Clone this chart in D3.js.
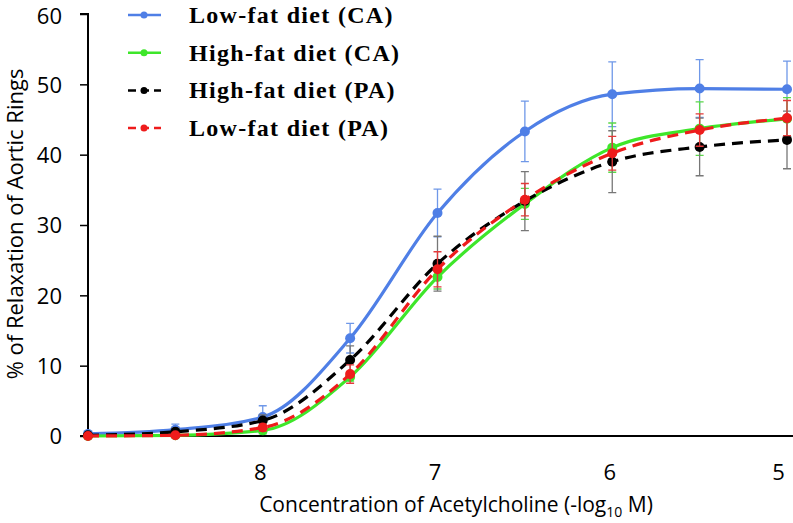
<!DOCTYPE html>
<html>
<head>
<meta charset="utf-8">
<script src="https://cdn.jsdelivr.net/npm/d3@7"></script>
<style>
  body { margin: 0; background: #fff; }
  svg { display: block; }
</style>
</head>
<body>
<div id="chart"></div>
<script>
// data
var conc = [9, 8.5, 8, 7.5, 7, 6.5, 6, 5.5, 5];
var xTicks = [8, 7, 6, 5];
var yTicks = [0, 10, 20, 30, 40, 50, 60];

var lowFatCA = [0.3, 0.9, 2.7, 13.9, 31.7, 43.3, 48.6, 49.4, 49.3];
var lowFatCAErr = [0.2, 0.8, 1.6, 2.1, 3.4, 4.3, 4.6, 4.1, 4.0];
var highFatCA = [0, 0.1, 0.8, 8.4, 22.6, 33.0, 41.0, 43.7, 45.1];
var highFatCAErr = [0.1, 0.2, 0.5, 0.6, 1.7, 2.2, 3.5, 3.8, 3.0];
var highFatPA = [0.1, 0.6, 2.2, 10.8, 24.5, 33.4, 39.0, 41.1, 42.1];
var highFatPAErr = [0.2, 0.5, 0.8, 2.0, 3.9, 4.2, 4.4, 4.1, 4.1];
var lowFatPA = [0, 0.1, 1.2, 8.8, 23.7, 33.6, 40.2, 43.5, 45.2];
var lowFatPAErr = [0.1, 0.2, 0.5, 1.3, 2.5, 2.3, 2.4, 2.3, 2.5];

var series = [
  {name: 'Low-fat diet (CA)', values: lowFatCA, err: lowFatCAErr, color: '#4f7fe6', errColor: '#6f98e8', dash: null},
  {name: 'High-fat diet (CA)', values: highFatCA, err: highFatCAErr, color: '#3ee62a', errColor: '#5bd84a', dash: null},
  {name: 'High-fat diet (PA)', values: highFatPA, err: highFatPAErr, color: '#000000', errColor: '#777777', dash: '11,7'},
  {name: 'Low-fat diet (PA)', values: lowFatPA, err: lowFatPAErr, color: '#ee1c1c', errColor: '#e23a3a', dash: '11,7'}
];

var W = 793, H = 523;
var margin = {top: 14, right: 6, bottom: 87, left: 88};

var svg = d3.select('#chart').append('svg')
  .attr('width', W)
  .attr('height', H);

var x = d3.scaleLinear().domain([9, 5]).range([margin.left, W - margin.right]);
var y = d3.scaleLinear().domain([0, 60]).range([H - margin.bottom, margin.top]);

// y axis
var yAxis = svg.append('g')
  .attr('transform', 'translate(' + margin.left + ',0)')
  .call(d3.axisLeft(y).tickValues(yTicks).tickFormat(d3.format('d')).tickSize(8).tickPadding(18));
yAxis.select('.domain').attr('stroke', '#000').attr('stroke-width', 2).attr('d', 'M-8,' + y(60) + 'H0V' + y(0));
yAxis.selectAll('.tick line').attr('stroke', '#000').attr('stroke-width', 1.5);
yAxis.selectAll('.tick text')
  .style('font-family', '"Open Sans", sans-serif')
  .style('font-size', '22px')
  .attr('dy', function(d) { return d === 60 ? '0.45em' : '0.36em'; })
  .attr('fill', '#000');

// x axis
var xAxis = svg.append('g')
  .attr('transform', 'translate(0,' + y(0) + ')')
  .call(d3.axisBottom(x).tickValues(xTicks).tickFormat(d3.format('d')).tickSize(0).tickPadding(28));
xAxis.select('.domain').attr('stroke', '#000').attr('stroke-width', 2)
  .attr('d', 'M' + (margin.left - 8) + ',0H' + W);
xAxis.selectAll('.tick text')
  .style('font-family', '"Open Sans", sans-serif')
  .style('font-size', '22px')
  .attr('dx', function(d) { return d === 5 ? -9 : -3; })
  .attr('fill', '#000');

// axis titles
var xt = svg.append('text')
  .attr('x', 456)
  .attr('y', 512)
  .attr('text-anchor', 'middle')
  .style('font-family', '"Open Sans", sans-serif')
  .style('font-size', '21px');
xt.append('tspan').text('Concentration of Acetylcholine (-log');
xt.append('tspan').attr('dy', 5).style('font-size', '14px').text('10');
xt.append('tspan').attr('dy', -5).text(' M)');

svg.append('text')
  .attr('transform', 'translate(23,' + 224 + ') rotate(-90)')
  .attr('text-anchor', 'middle')
  .style('font-family', '"Open Sans", sans-serif')
  .style('font-size', '22px')
  .text('% of Relaxation of Aortic Rings');

var line = d3.line()
  .x(function(d, i) { return x(conc[i]); })
  .y(function(d) { return y(d); })
  .curve(d3.curveMonotoneX);

series.forEach(function(s) {
  var g = svg.append('g');

  // error bars
  g.selectAll('.err')
    .data(s.values)
    .enter().append('path')
    .attr('fill', 'none')
    .attr('stroke', s.errColor)
    .attr('stroke-width', 1.3)
    .attr('d', function(d, i) {
      var cx = x(conc[i]);
      var top = y(d + s.err[i]), bot = y(Math.max(0, d - s.err[i]));
      return 'M' + cx + ',' + top + 'V' + bot +
        'M' + (cx - 4) + ',' + top + 'H' + (cx + 4) +
        'M' + (cx - 4) + ',' + bot + 'H' + (cx + 4);
    });

  g.append('path')
    .datum(s.values)
    .attr('fill', 'none')
    .attr('stroke', s.color)
    .attr('stroke-width', 3.2)
    .attr('stroke-dasharray', s.dash)
    .attr('d', line);

  g.selectAll('circle')
    .data(s.values)
    .enter().append('circle')
    .attr('cx', function(d, i) { return x(conc[i]); })
    .attr('cy', function(d) { return y(d); })
    .attr('r', 5)
    .attr('fill', s.color);
});

// legend
var legend = svg.append('g').attr('transform', 'translate(128,15)');
series.forEach(function(s, i) {
  var row = legend.append('g').attr('transform', 'translate(0,' + (i * 37.7) + ')');
  row.append('line')
    .attr('x1', 0).attr('x2', 33)
    .attr('y1', 0).attr('y2', 0)
    .attr('stroke', s.color)
    .attr('stroke-width', 2.5)
    .attr('stroke-dasharray', s.dash ? '8,5' : null);
  row.append('circle')
    .attr('cx', 16).attr('cy', 0).attr('r', 3.5)
    .attr('fill', s.color);
  row.append('text')
    .attr('x', 61)
    .attr('y', 8)
    .style('font-family', '"Liberation Serif", "Times New Roman", serif')
    .style('font-weight', 'bold')
    .style('font-size', '24px')
    .style('letter-spacing', '1.3px')
    .text(s.name);
});
</script>
</body>
</html>
